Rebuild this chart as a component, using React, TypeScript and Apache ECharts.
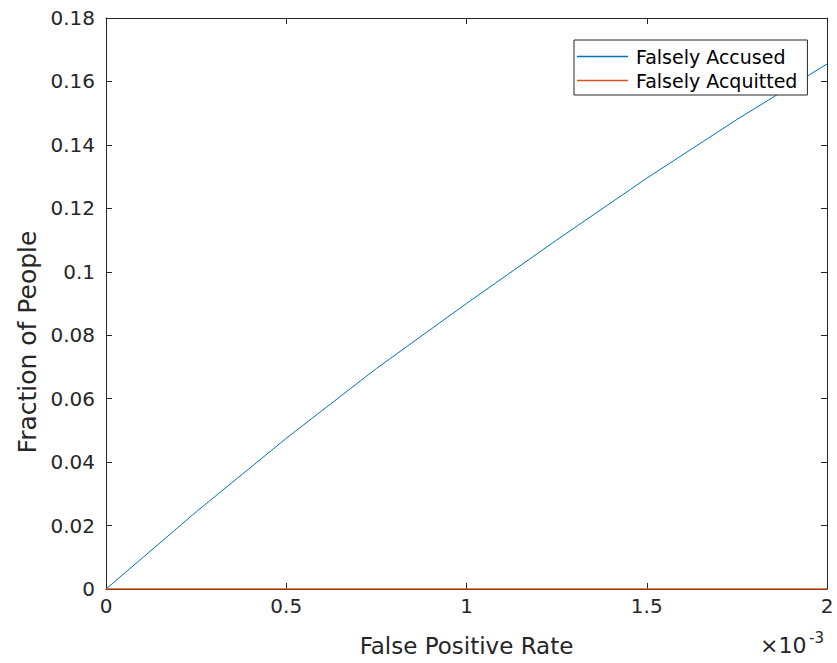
import React, { useEffect, useRef } from "react";
import * as echarts from "echarts";

// x in units of 1e-3 (False Positive Rate)
const fprValues = [0, 0.25, 0.5, 0.75, 1.0, 1.25, 1.5, 1.75, 2.0];
const falselyAccused = [0, 0.0243, 0.0475, 0.0695, 0.09, 0.11, 0.1295, 0.148, 0.1655];
const falselyAcquitted = [0, 0, 0, 0, 0, 0, 0, 0, 0];
const xTickLabels = ["0", "0.5", "1", "1.5", "2"];
const yTickLabels = ["0", "0.02", "0.04", "0.06", "0.08", "0.1", "0.12", "0.14", "0.16", "0.18"];
const seriesNames = ["Falsely Accused", "Falsely Acquitted"];
const xAxisTitle = "False Positive Rate";
const yAxisTitle = "Fraction of People";

const AXIS = "#262626";
const FONT = "DejaVu Sans";

export default function App() {
  const ref = useRef<HTMLDivElement>(null);
  useEffect(() => {
    if (!ref.current) return;
    const chart = echarts.init(ref.current, null, { renderer: "svg" });
    const boxAxisLine = { show: true, onZero: false, lineStyle: { color: AXIS, width: 1 } };
    const tick = { show: true, inside: true, length: 6, lineStyle: { color: AXIS, width: 1 } };
    const xLabelFmt = (v: number) => {
      const i = Math.round(v / 0.5);
      return xTickLabels[i] ?? "";
    };
    const yLabelFmt = (v: number) => {
      const i = Math.round(v / 0.02);
      return yTickLabels[i] ?? "";
    };
    chart.setOption({
      animation: false,
      backgroundColor: "#ffffff",
      grid: { left: 106, right: 10, top: 18, bottom: 74, containLabel: false },
      xAxis: [
        {
          type: "value",
          min: 0,
          max: 2,
          interval: 0.5,
          position: "bottom",
          axisLine: boxAxisLine,
          axisTick: tick,
          splitLine: { show: false },
          axisLabel: {
            formatter: xLabelFmt,
            fontFamily: FONT,
            fontSize: 20,
            color: AXIS,
            margin: 7,
          },
          name: xAxisTitle,
          nameLocation: "middle",
          nameGap: 45,
          nameTextStyle: { fontFamily: FONT, fontSize: 23, color: AXIS },
        },
        {
          type: "value",
          min: 0,
          max: 2,
          interval: 0.5,
          position: "top",
          axisLine: boxAxisLine,
          axisTick: tick,
          splitLine: { show: false },
          axisLabel: { show: false },
        },
      ],
      yAxis: [
        {
          type: "value",
          min: 0,
          max: 0.18,
          interval: 0.02,
          position: "left",
          axisLine: boxAxisLine,
          axisTick: tick,
          splitLine: { show: false },
          axisLabel: {
            formatter: yLabelFmt,
            fontFamily: FONT,
            fontSize: 20,
            color: AXIS,
            margin: 11,
          },
        },
        {
          type: "value",
          min: 0,
          max: 0.18,
          interval: 0.02,
          position: "right",
          axisLine: boxAxisLine,
          axisTick: tick,
          splitLine: { show: false },
          axisLabel: { show: false },
        },
      ],
      legend: {
        orient: "vertical",
        left: 574,
        top: 40,
        data: seriesNames,
        icon: "rect",
        itemWidth: 51,
        itemHeight: 1.5,
        itemGap: 5,
        padding: [7, 10, 5, 3],
        borderColor: AXIS,
        borderWidth: 1,
        borderRadius: 0,
        backgroundColor: "#ffffff",
        textStyle: { fontFamily: FONT, fontSize: 19, color: "#000000", padding: [0, 0, 0, 3] },
      },
      graphic: [
        {
          type: "text",
          x: 27,
          y: 342,
          rotation: Math.PI / 2,
          style: {
            text: yAxisTitle,
            fontFamily: FONT,
            fontSize: 25,
            fill: AXIS,
            textAlign: "center",
            textVerticalAlign: "middle",
          },
        },
        {
          type: "text",
          left: 760,
          top: 634,
          style: { text: "×10", fontFamily: FONT, fontSize: 22, fill: AXIS },
        },
        {
          type: "text",
          left: 809,
          top: 630,
          style: { text: "-3", fontFamily: FONT, fontSize: 15, fill: AXIS },
        },
      ],
      series: [
        {
          name: seriesNames[0],
          type: "line",
          xAxisIndex: 0,
          yAxisIndex: 0,
          data: fprValues.map((x, i) => [x, falselyAccused[i]]),
          showSymbol: false,
          symbol: "none",
          lineStyle: { color: "#0072BD", width: 1 },
          itemStyle: { color: "#0072BD" },
          z: 3,
        },
        {
          name: seriesNames[1],
          type: "line",
          xAxisIndex: 0,
          yAxisIndex: 0,
          data: fprValues.map((x, i) => [x, falselyAcquitted[i]]),
          showSymbol: false,
          symbol: "none",
          lineStyle: { color: "#D95319", width: 1.5 },
          itemStyle: { color: "#D95319" },
          z: 4,
        },
      ],
    });
    return () => chart.dispose();
  }, []);
  return (
    <div
      ref={ref}
      style={{ position: "fixed", left: 0, top: 0, width: 837, height: 663, background: "#fff" }}
    />
  );
}
